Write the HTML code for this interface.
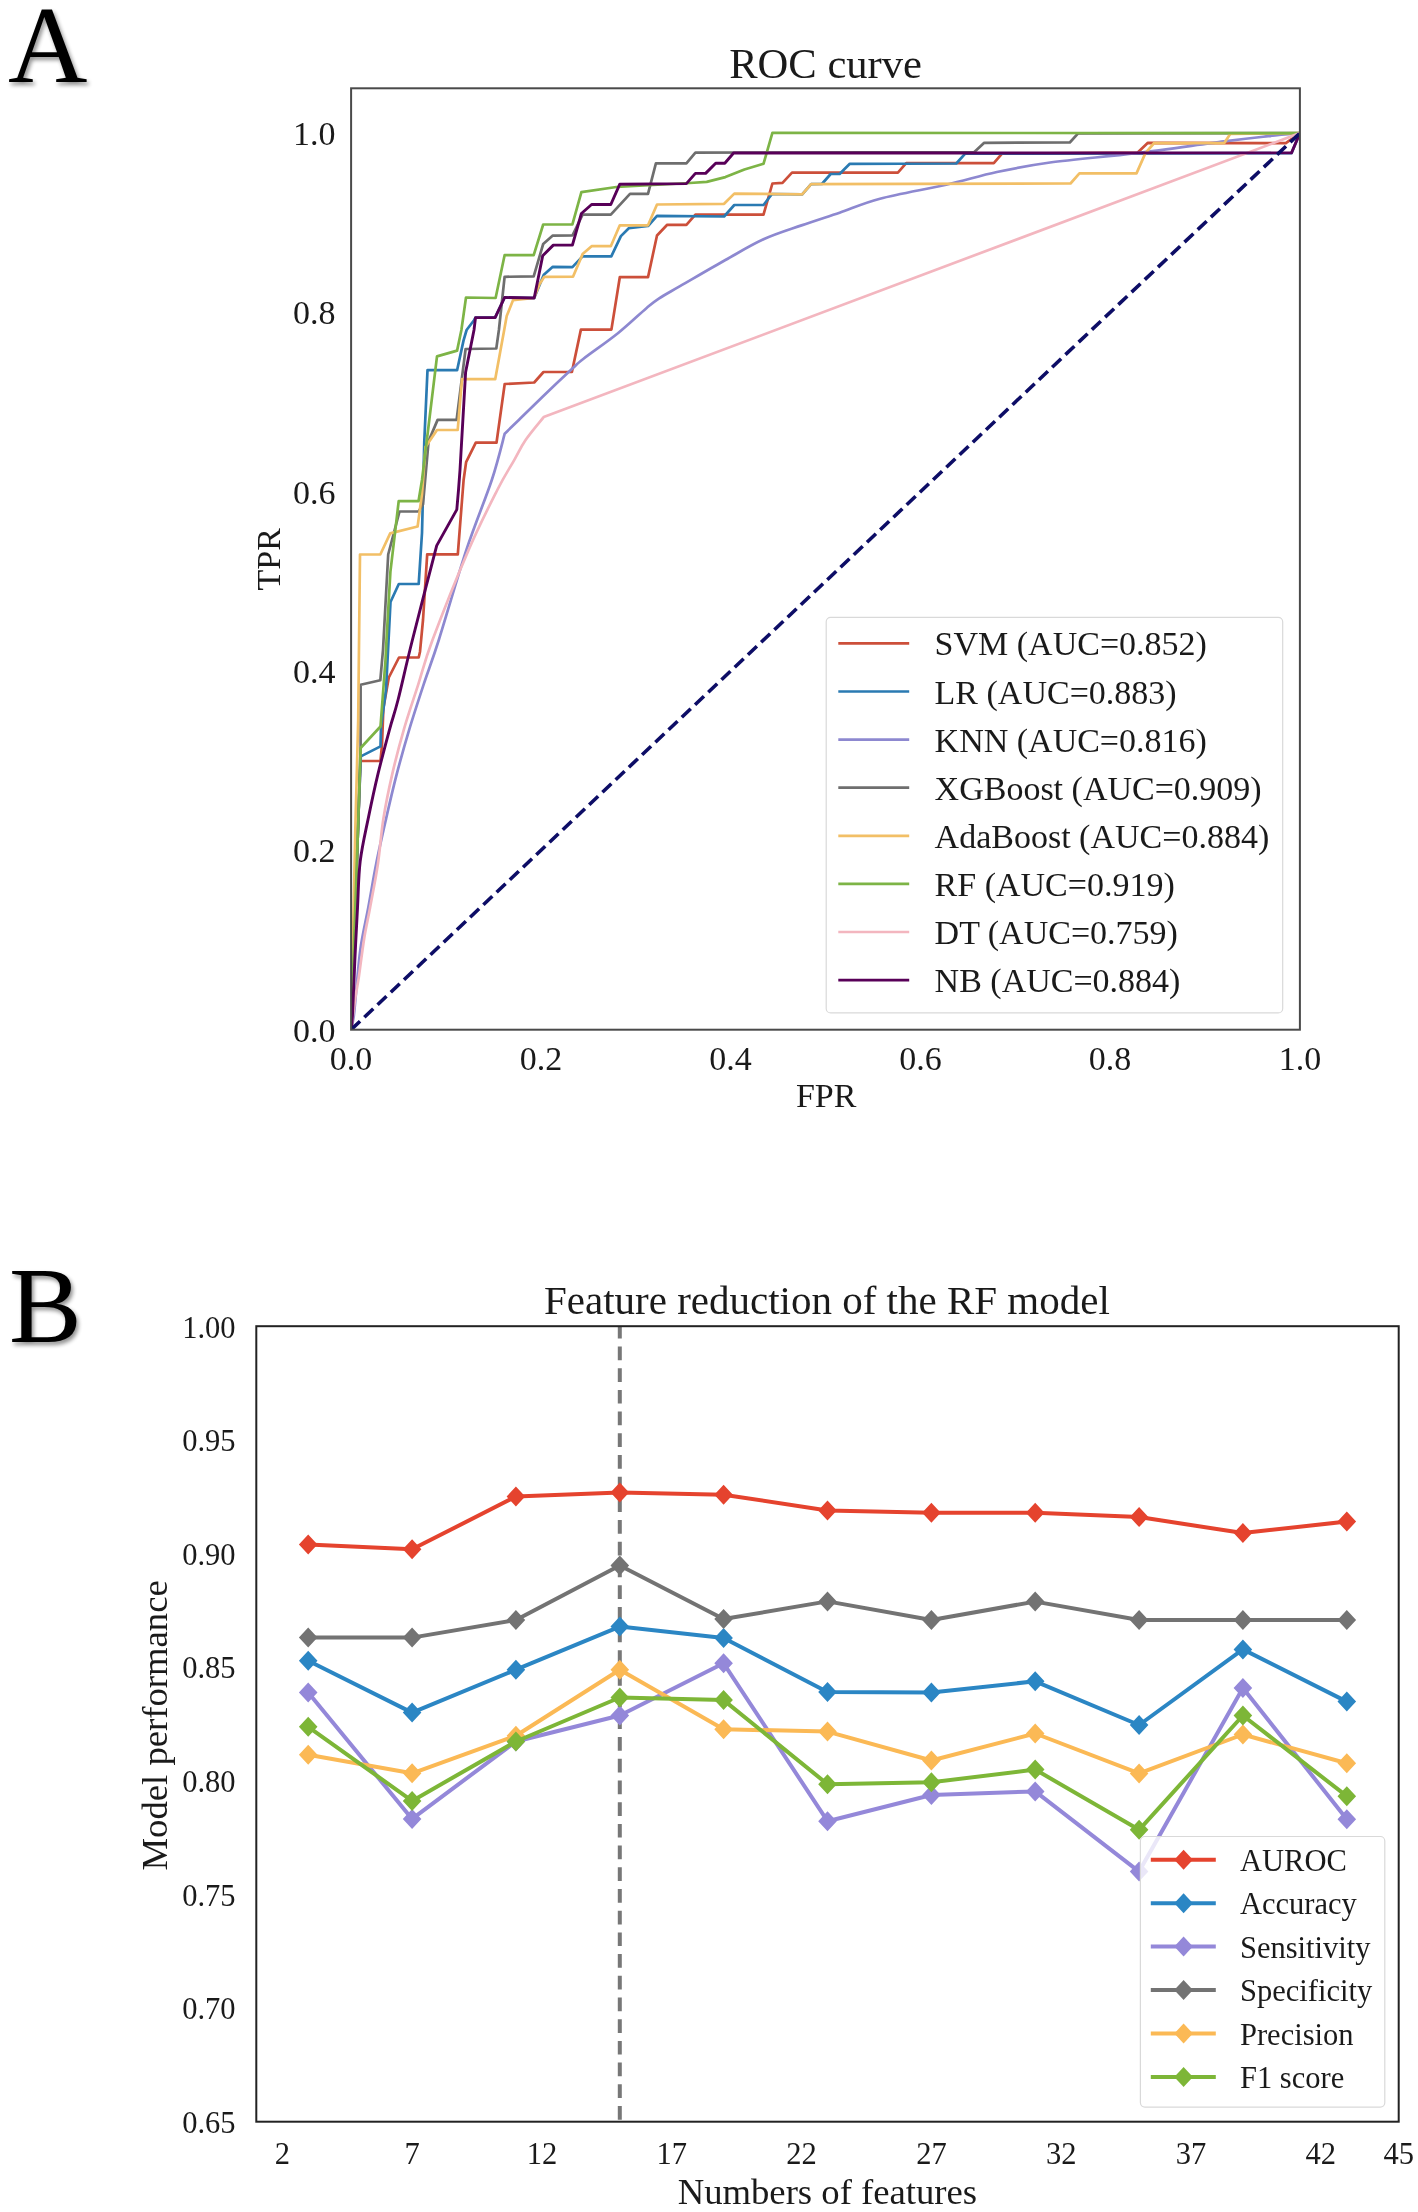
<!DOCTYPE html><html><head><meta charset="utf-8"><style>html,body{margin:0;padding:0;background:#fff;}svg{display:block;will-change:transform}text{font-family:'Liberation Serif', serif;fill:#1a1a1a}</style></head><body>
<svg width="1418" height="2212" viewBox="0 0 1418 2212">
<defs><filter id="sh" x="-20%" y="-20%" width="150%" height="150%"><feGaussianBlur in="SourceAlpha" stdDeviation="2"/><feOffset dx="2" dy="3" result="b"/><feComponentTransfer><feFuncA type="linear" slope="0.45"/></feComponentTransfer><feMerge><feMergeNode/><feMergeNode in="SourceGraphic"/></feMerge></filter></defs>
<rect width="1418" height="2212" fill="#fff"/>
<text x="8" y="82" style="font-size:110px;fill:#000" filter="url(#sh)">A</text>
<text x="9" y="1342" style="font-size:109px;fill:#000" filter="url(#sh)">B</text>
<text x="825.6" y="78" text-anchor="middle" style="font-size:42.6px">ROC curve</text>
<text x="335.5" y="1041.7" text-anchor="end" style="font-size:34px">0.0</text>
<text x="335.5" y="862.4" text-anchor="end" style="font-size:34px">0.2</text>
<text x="335.5" y="683.1" text-anchor="end" style="font-size:34px">0.4</text>
<text x="335.5" y="503.7" text-anchor="end" style="font-size:34px">0.6</text>
<text x="335.5" y="324.4" text-anchor="end" style="font-size:34px">0.8</text>
<text x="335.5" y="145.1" text-anchor="end" style="font-size:34px">1.0</text>
<text x="351.1" y="1070" text-anchor="middle" style="font-size:34px">0.0</text>
<text x="540.9" y="1070" text-anchor="middle" style="font-size:34px">0.2</text>
<text x="730.6" y="1070" text-anchor="middle" style="font-size:34px">0.4</text>
<text x="920.4" y="1070" text-anchor="middle" style="font-size:34px">0.6</text>
<text x="1110.1" y="1070" text-anchor="middle" style="font-size:34px">0.8</text>
<text x="1299.9" y="1070" text-anchor="middle" style="font-size:34px">1.0</text>
<text x="826.2" y="1106.5" text-anchor="middle" style="font-size:34px">FPR</text>
<text transform="translate(279.5,559.3) rotate(-90)" text-anchor="middle" style="font-size:34px">TPR</text>
<clipPath id="clipA"><rect x="351.1" y="88.3" width="948.8000000000001" height="941.4000000000001"/></clipPath>
<g clip-path="url(#clipA)" fill="none" stroke-linejoin="round" stroke-linecap="butt">
<path d="M351.1,1029.7 L358.3,820.0 L360.5,761.0 L380.5,761.0 L382.0,745.0 L383.4,708.0 L388.8,677.5 L399.0,657.5 L418.7,657.5 L420.0,651.7 L423.0,620.0 L427.2,554.3 L457.8,554.3 L463.6,480.0 L466.1,462.2 L475.8,442.7 L496.5,442.7 L504.7,384.0 L534.2,382.5 L543.5,372.0 L571.9,372.0 L580.9,329.6 L611.4,329.6 L619.8,277.2 L648.0,277.2 L657.0,235.5 L667.2,224.8 L686.4,224.8 L695.4,214.6 L763.5,214.6 L772.4,183.5 L782.5,182.8 L792.0,172.7 L897.9,172.7 L906.2,163.2 L993.8,163.2 L1002.0,153.6 L1137.7,152.5 L1147.9,142.8 L1285.8,143.2 L1299.9,133.1" stroke="#cc4f3a" stroke-width="2.7"/>
<path d="M351.1,1029.7 L358.3,820.0 L360.8,756.4 L380.5,746.4 L381.0,727.0 L386.0,690.0 L390.5,602.0 L398.8,584.0 L418.7,584.0 L422.0,533.0 L424.3,441.0 L427.5,370.2 L457.1,370.2 L463.5,340.6 L466.6,330.0 L474.0,320.2 L475.5,317.6 L495.1,317.6 L504.6,297.5 L534.2,298.0 L543.8,274.7 L552.8,266.8 L572.4,267.1 L582.6,256.4 L611.3,256.4 L620.9,236.1 L628.8,228.2 L648.0,226.0 L657.0,215.8 L724.1,216.5 L734.3,205.0 L763.5,205.0 L772.0,194.0 L802.2,194.3 L811.1,184.1 L821.9,184.0 L830.7,174.0 L839.6,174.0 L849.8,163.8 L956.3,163.5 L965.2,153.6 L1291.5,153.2 L1299.9,133.1" stroke="#2a7ab2" stroke-width="2.7"/>
<path d="M351.1,1029.7 C351.6,1027.2 352.8,1023.9 353.9,1015.0 C355.0,1006.1 356.3,988.3 357.5,976.6 C358.7,964.9 359.2,956.5 361.0,945.0 C362.8,933.5 365.6,921.5 368.2,907.9 C370.8,894.3 373.3,878.1 376.3,863.2 C379.3,848.3 382.7,833.5 386.1,818.6 C389.5,803.7 392.9,788.8 396.8,773.9 C400.7,759.0 404.8,744.2 409.3,729.3 C413.8,714.4 418.7,699.5 423.6,684.6 C428.5,669.7 431.7,662.4 438.8,640.0 C445.9,617.6 457.5,576.9 466.3,550.2 C475.1,523.5 485.4,499.4 491.8,480.0 C498.2,460.6 502.6,441.4 504.7,433.7 C507.2,431.2 513.7,424.9 520.0,418.8 C526.3,412.7 534.0,405.1 542.6,396.8 C551.2,388.5 565.1,375.4 571.9,369.1 C578.7,362.8 575.5,365.0 583.2,359.0 C590.9,353.0 607.7,341.5 618.2,333.0 C628.7,324.5 639.6,313.9 646.4,308.2 C653.2,302.5 653.2,302.3 658.8,298.6 C664.4,294.9 668.9,292.6 680.0,286.2 C691.1,279.8 711.5,267.8 725.4,260.0 C739.3,252.2 750.8,245.1 763.5,239.3 C776.2,233.5 788.8,229.8 801.5,225.4 C814.2,221.0 826.5,217.1 839.6,212.7 C852.7,208.2 862.2,203.4 880.0,198.7 C897.8,194.0 926.7,189.1 946.2,184.7 C965.7,180.2 979.6,175.7 996.9,172.0 C1014.2,168.3 1026.7,165.7 1050.0,162.5 C1073.3,159.3 1107.5,156.6 1136.5,153.1 C1165.5,149.6 1202.1,144.2 1224.1,141.4 C1246.0,138.6 1255.6,137.6 1268.2,136.2 C1280.8,134.8 1294.6,133.6 1299.9,133.1" stroke="#8d88d0" stroke-width="2.7"/>
<path d="M351.1,1029.7 L358.3,820.0 L360.6,748.0 L360.6,684.7 L380.3,680.3 L383.0,650.0 L388.2,554.5 L399.5,511.5 L418.6,511.5 L423.0,504.3 L428.6,441.1 L437.6,419.9 L456.6,419.9 L465.6,349.0 L496.3,348.5 L498.9,330.0 L504.6,276.8 L533.7,276.3 L543.2,244.0 L552.8,235.6 L572.4,235.5 L582.6,214.6 L610.8,214.6 L630.0,193.8 L648.0,193.8 L655.9,163.3 L686.4,163.3 L695.4,152.6 L974.1,152.2 L984.2,142.8 L1069.8,142.5 L1078.1,133.4 L1299.9,133.1" stroke="#6e6e6e" stroke-width="2.7"/>
<path d="M351.1,1029.7 L355.3,830.0 L358.2,720.0 L360.0,554.5 L380.3,554.5 L390.2,533.4 L417.6,526.5 L422.0,494.0 L425.5,447.0 L437.0,430.0 L457.7,430.0 L462.0,379.2 L495.2,379.2 L504.2,330.0 L506.7,316.0 L513.1,300.1 L534.0,298.0 L539.5,284.2 L544.3,276.8 L573.0,276.7 L582.6,254.1 L591.6,246.2 L610.8,246.2 L619.8,225.3 L648.0,225.3 L657.0,204.5 L724.1,203.8 L734.3,193.6 L802.2,194.3 L811.1,184.1 L1070.5,183.5 L1079.4,173.4 L1136.5,173.4 L1145.4,153.1 L1154.2,143.0 L1224.1,143.2 L1230.2,134.0 L1299.9,133.1" stroke="#f2bf66" stroke-width="2.7"/>
<path d="M351.1,1029.7 L358.3,820.0 L360.6,748.0 L380.5,726.5 L385.5,660.0 L386.5,640.0 L390.4,571.8 L398.7,501.2 L418.5,501.2 L422.0,480.0 L437.0,356.4 L457.1,350.6 L461.4,330.0 L466.0,297.5 L495.6,298.0 L504.6,255.2 L533.7,255.2 L543.2,224.5 L572.4,224.3 L581.4,192.1 L616.4,187.0 L689.8,183.0 L706.7,181.9 L725.4,177.1 L744.4,169.5 L763.5,163.8 L772.4,132.9 L1299.9,133.1" stroke="#7db446" stroke-width="2.7"/>
<path d="M351.1,1029.7 C351.8,1024.8 353.7,1008.9 355.0,1000.0 C356.3,991.1 357.3,987.0 358.9,976.6 C360.4,966.2 362.4,949.2 364.3,937.7 C366.2,926.2 367.7,920.3 370.0,907.9 C372.3,895.5 375.8,878.1 378.0,863.2 C380.2,848.3 381.0,833.5 383.4,818.6 C385.8,803.7 388.9,788.8 392.3,773.9 C395.7,759.0 399.6,744.2 403.9,729.3 C408.2,714.4 413.4,699.5 418.2,684.6 C423.0,669.7 424.1,662.4 432.5,640.0 C440.9,617.6 457.7,575.2 468.5,550.2 C479.3,525.2 489.7,505.0 497.3,490.0 C504.9,475.0 509.5,468.4 514.2,460.1 C518.9,451.8 520.7,447.2 525.6,440.0 C530.5,432.8 540.7,420.9 543.7,417.1 L1299.9,133.1" stroke="#f3b6bf" stroke-width="2.7"/>
<path d="M351.1,1029.7 C351.3,1027.2 351.9,1026.4 352.5,1015.0 C353.1,1003.6 354.0,979.2 354.8,961.4 C355.6,943.5 356.6,924.6 357.5,907.9 C358.4,891.2 358.4,876.3 360.2,861.4 C362.0,846.5 365.2,833.2 368.2,818.6 C371.2,804.0 374.4,788.8 378.0,773.9 C381.6,759.0 386.3,741.6 389.6,729.3 C392.9,717.0 394.2,714.9 398.0,700.0 C401.8,685.1 405.9,665.7 412.4,640.0 C418.8,614.3 432.6,561.3 436.7,545.6 L456.8,509.6 L458.5,490.0 L460.0,470.0 L465.6,372.3 L474.0,330.0 L475.5,317.6 L495.1,317.6 L504.6,297.5 L534.2,298.0 L542.7,255.7 L553.3,245.1 L572.4,245.1 L581.4,213.5 L591.6,204.5 L610.8,204.5 L619.8,184.2 L686.4,183.6 L695.4,173.4 L705.6,173.4 L715.7,163.3 L724.8,163.2 L733.6,153.0 L1291.5,152.9 L1299.9,133.1" stroke="#580058" stroke-width="2.9"/>
<line x1="351.1" y1="1029.7" x2="1299.9" y2="133.10000000000002" stroke="#0d0d66" stroke-width="3.6" stroke-dasharray="12.3 5.9"/>
</g>
<rect x="351.1" y="88.3" width="948.8" height="941.4" fill="none" stroke="#4a4a4a" stroke-width="2"/>
<rect x="826.2" y="617.3" width="456.5" height="395.6" rx="4.5" fill="#fff" fill-opacity="0.8" stroke="#d9d9d9" stroke-width="1.2"/>
<line x1="838.3" y1="643.4" x2="909.2" y2="643.4" stroke="#cc4f3a" stroke-width="2.7"/>
<text x="934.6" y="655.4" style="font-size:34px">SVM (AUC=0.852)</text>
<line x1="838.3" y1="691.5" x2="909.2" y2="691.5" stroke="#2a7ab2" stroke-width="2.7"/>
<text x="934.6" y="703.5" style="font-size:34px">LR (AUC=0.883)</text>
<line x1="838.3" y1="739.6" x2="909.2" y2="739.6" stroke="#8d88d0" stroke-width="2.7"/>
<text x="934.6" y="751.6" style="font-size:34px">KNN (AUC=0.816)</text>
<line x1="838.3" y1="787.7" x2="909.2" y2="787.7" stroke="#6e6e6e" stroke-width="2.7"/>
<text x="934.6" y="799.7" style="font-size:34px">XGBoost (AUC=0.909)</text>
<line x1="838.3" y1="835.8" x2="909.2" y2="835.8" stroke="#f2bf66" stroke-width="2.7"/>
<text x="934.6" y="847.8" style="font-size:34px">AdaBoost (AUC=0.884)</text>
<line x1="838.3" y1="883.9" x2="909.2" y2="883.9" stroke="#7db446" stroke-width="2.7"/>
<text x="934.6" y="895.9" style="font-size:34px">RF (AUC=0.919)</text>
<line x1="838.3" y1="932.0" x2="909.2" y2="932.0" stroke="#f3b6bf" stroke-width="2.7"/>
<text x="934.6" y="944.0" style="font-size:34px">DT (AUC=0.759)</text>
<line x1="838.3" y1="980.1" x2="909.2" y2="980.1" stroke="#580058" stroke-width="2.9"/>
<text x="934.6" y="992.1" style="font-size:34px">NB (AUC=0.884)</text>
<text x="826.9" y="1313.6" text-anchor="middle" style="font-size:41px">Feature reduction of the RF model</text>
<text x="235.5" y="2133.0" text-anchor="end" style="font-size:30.5px">0.65</text>
<text x="235.5" y="2019.4" text-anchor="end" style="font-size:30.5px">0.70</text>
<text x="235.5" y="1905.7" text-anchor="end" style="font-size:30.5px">0.75</text>
<text x="235.5" y="1792.1" text-anchor="end" style="font-size:30.5px">0.80</text>
<text x="235.5" y="1678.4" text-anchor="end" style="font-size:30.5px">0.85</text>
<text x="235.5" y="1564.8" text-anchor="end" style="font-size:30.5px">0.90</text>
<text x="235.5" y="1451.1" text-anchor="end" style="font-size:30.5px">0.95</text>
<text x="235.5" y="1337.5" text-anchor="end" style="font-size:30.5px">1.00</text>
<text x="282.3" y="2164" text-anchor="middle" style="font-size:30.5px">2</text>
<text x="412.1" y="2164" text-anchor="middle" style="font-size:30.5px">7</text>
<text x="541.9" y="2164" text-anchor="middle" style="font-size:30.5px">12</text>
<text x="671.7" y="2164" text-anchor="middle" style="font-size:30.5px">17</text>
<text x="801.5" y="2164" text-anchor="middle" style="font-size:30.5px">22</text>
<text x="931.4" y="2164" text-anchor="middle" style="font-size:30.5px">27</text>
<text x="1061.2" y="2164" text-anchor="middle" style="font-size:30.5px">32</text>
<text x="1191.0" y="2164" text-anchor="middle" style="font-size:30.5px">37</text>
<text x="1320.8" y="2164" text-anchor="middle" style="font-size:30.5px">42</text>
<text x="1398.7" y="2164" text-anchor="middle" style="font-size:30.5px">45</text>
<text x="827.4" y="2204" text-anchor="middle" style="font-size:36.7px">Numbers of features</text>
<text transform="translate(166.9,1725.4) rotate(-90)" text-anchor="middle" style="font-size:36.7px">Model performance</text>
<line x1="619.8" y1="1326.2" x2="619.8" y2="2121.7" stroke="#777" stroke-width="4" stroke-dasharray="13.7 8" stroke-dashoffset="1.4"/>
<path d="M308.2,1544.6 L412.1,1549.3 L515.9,1496.6 L619.8,1492.4 L723.6,1494.7 L827.5,1510.4 L931.4,1512.7 L1035.2,1512.7 L1139.1,1517.1 L1242.9,1533.0 L1346.8,1521.6" fill="none" stroke="#e5432e" stroke-width="4" stroke-linejoin="round"/>
<path d="M308.2,1534.6 L317.5,1544.6 L308.2,1554.6 L298.9,1544.6 Z M412.1,1539.3 L421.4,1549.3 L412.1,1559.3 L402.8,1549.3 Z M515.9,1486.6 L525.2,1496.6 L515.9,1506.6 L506.6,1496.6 Z M619.8,1482.4 L629.1,1492.4 L619.8,1502.4 L610.5,1492.4 Z M723.6,1484.7 L732.9,1494.7 L723.6,1504.7 L714.3,1494.7 Z M827.5,1500.4 L836.8,1510.4 L827.5,1520.4 L818.2,1510.4 Z M931.4,1502.7 L940.7,1512.7 L931.4,1522.7 L922.1,1512.7 Z M1035.2,1502.7 L1044.5,1512.7 L1035.2,1522.7 L1025.9,1512.7 Z M1139.1,1507.1 L1148.4,1517.1 L1139.1,1527.1 L1129.8,1517.1 Z M1242.9,1523.0 L1252.2,1533.0 L1242.9,1543.0 L1233.6,1533.0 Z M1346.8,1511.6 L1356.1,1521.6 L1346.8,1531.6 L1337.5,1521.6 Z" fill="#e5432e"/>
<path d="M308.2,1660.8 L412.1,1712.6 L515.9,1669.7 L619.8,1626.6 L723.6,1638.0 L827.5,1692.1 L931.4,1692.5 L1035.2,1681.3 L1139.1,1725.0 L1242.9,1649.4 L1346.8,1701.6" fill="none" stroke="#2b86c4" stroke-width="4" stroke-linejoin="round"/>
<path d="M308.2,1650.8 L317.5,1660.8 L308.2,1670.8 L298.9,1660.8 Z M412.1,1702.6 L421.4,1712.6 L412.1,1722.6 L402.8,1712.6 Z M515.9,1659.7 L525.2,1669.7 L515.9,1679.7 L506.6,1669.7 Z M619.8,1616.6 L629.1,1626.6 L619.8,1636.6 L610.5,1626.6 Z M723.6,1628.0 L732.9,1638.0 L723.6,1648.0 L714.3,1638.0 Z M827.5,1682.1 L836.8,1692.1 L827.5,1702.1 L818.2,1692.1 Z M931.4,1682.5 L940.7,1692.5 L931.4,1702.5 L922.1,1692.5 Z M1035.2,1671.3 L1044.5,1681.3 L1035.2,1691.3 L1025.9,1681.3 Z M1139.1,1715.0 L1148.4,1725.0 L1139.1,1735.0 L1129.8,1725.0 Z M1242.9,1639.4 L1252.2,1649.4 L1242.9,1659.4 L1233.6,1649.4 Z M1346.8,1691.6 L1356.1,1701.6 L1346.8,1711.6 L1337.5,1701.6 Z" fill="#2b86c4"/>
<path d="M308.2,1692.6 L412.1,1818.9 L515.9,1741.5 L619.8,1715.5 L723.6,1663.3 L827.5,1821.2 L931.4,1795.0 L1035.2,1791.4 L1139.1,1871.6 L1242.9,1688.0 L1346.8,1819.3" fill="none" stroke="#9488d9" stroke-width="4" stroke-linejoin="round"/>
<path d="M308.2,1682.6 L317.5,1692.6 L308.2,1702.6 L298.9,1692.6 Z M412.1,1808.9 L421.4,1818.9 L412.1,1828.9 L402.8,1818.9 Z M515.9,1731.5 L525.2,1741.5 L515.9,1751.5 L506.6,1741.5 Z M619.8,1705.5 L629.1,1715.5 L619.8,1725.5 L610.5,1715.5 Z M723.6,1653.3 L732.9,1663.3 L723.6,1673.3 L714.3,1663.3 Z M827.5,1811.2 L836.8,1821.2 L827.5,1831.2 L818.2,1821.2 Z M931.4,1785.0 L940.7,1795.0 L931.4,1805.0 L922.1,1795.0 Z M1035.2,1781.4 L1044.5,1791.4 L1035.2,1801.4 L1025.9,1791.4 Z M1139.1,1861.6 L1148.4,1871.6 L1139.1,1881.6 L1129.8,1871.6 Z M1242.9,1678.0 L1252.2,1688.0 L1242.9,1698.0 L1233.6,1688.0 Z M1346.8,1809.3 L1356.1,1819.3 L1346.8,1829.3 L1337.5,1819.3 Z" fill="#9488d9"/>
<path d="M308.2,1637.6 L412.1,1637.6 L515.9,1620.0 L619.8,1565.5 L723.6,1619.0 L827.5,1601.4 L931.4,1620.0 L1035.2,1601.6 L1139.1,1620.0 L1242.9,1620.0 L1346.8,1620.0" fill="none" stroke="#737373" stroke-width="4" stroke-linejoin="round"/>
<path d="M308.2,1627.6 L317.5,1637.6 L308.2,1647.6 L298.9,1637.6 Z M412.1,1627.6 L421.4,1637.6 L412.1,1647.6 L402.8,1637.6 Z M515.9,1610.0 L525.2,1620.0 L515.9,1630.0 L506.6,1620.0 Z M619.8,1555.5 L629.1,1565.5 L619.8,1575.5 L610.5,1565.5 Z M723.6,1609.0 L732.9,1619.0 L723.6,1629.0 L714.3,1619.0 Z M827.5,1591.4 L836.8,1601.4 L827.5,1611.4 L818.2,1601.4 Z M931.4,1610.0 L940.7,1620.0 L931.4,1630.0 L922.1,1620.0 Z M1035.2,1591.6 L1044.5,1601.6 L1035.2,1611.6 L1025.9,1601.6 Z M1139.1,1610.0 L1148.4,1620.0 L1139.1,1630.0 L1129.8,1620.0 Z M1242.9,1610.0 L1252.2,1620.0 L1242.9,1630.0 L1233.6,1620.0 Z M1346.8,1610.0 L1356.1,1620.0 L1346.8,1630.0 L1337.5,1620.0 Z" fill="#737373"/>
<path d="M308.2,1754.7 L412.1,1773.3 L515.9,1735.8 L619.8,1669.7 L723.6,1729.2 L827.5,1731.6 L931.4,1760.5 L1035.2,1733.5 L1139.1,1773.4 L1242.9,1734.5 L1346.8,1763.3" fill="none" stroke="#fbb955" stroke-width="4" stroke-linejoin="round"/>
<path d="M308.2,1744.7 L317.5,1754.7 L308.2,1764.7 L298.9,1754.7 Z M412.1,1763.3 L421.4,1773.3 L412.1,1783.3 L402.8,1773.3 Z M515.9,1725.8 L525.2,1735.8 L515.9,1745.8 L506.6,1735.8 Z M619.8,1659.7 L629.1,1669.7 L619.8,1679.7 L610.5,1669.7 Z M723.6,1719.2 L732.9,1729.2 L723.6,1739.2 L714.3,1729.2 Z M827.5,1721.6 L836.8,1731.6 L827.5,1741.6 L818.2,1731.6 Z M931.4,1750.5 L940.7,1760.5 L931.4,1770.5 L922.1,1760.5 Z M1035.2,1723.5 L1044.5,1733.5 L1035.2,1743.5 L1025.9,1733.5 Z M1139.1,1763.4 L1148.4,1773.4 L1139.1,1783.4 L1129.8,1773.4 Z M1242.9,1724.5 L1252.2,1734.5 L1242.9,1744.5 L1233.6,1734.5 Z M1346.8,1753.3 L1356.1,1763.3 L1346.8,1773.3 L1337.5,1763.3 Z" fill="#fbb955"/>
<path d="M308.2,1726.8 L412.1,1800.9 L515.9,1741.5 L619.8,1697.5 L723.6,1700.1 L827.5,1784.2 L931.4,1782.3 L1035.2,1769.6 L1139.1,1829.8 L1242.9,1715.5 L1346.8,1796.2" fill="none" stroke="#7db637" stroke-width="4" stroke-linejoin="round"/>
<path d="M308.2,1716.8 L317.5,1726.8 L308.2,1736.8 L298.9,1726.8 Z M412.1,1790.9 L421.4,1800.9 L412.1,1810.9 L402.8,1800.9 Z M515.9,1731.5 L525.2,1741.5 L515.9,1751.5 L506.6,1741.5 Z M619.8,1687.5 L629.1,1697.5 L619.8,1707.5 L610.5,1697.5 Z M723.6,1690.1 L732.9,1700.1 L723.6,1710.1 L714.3,1700.1 Z M827.5,1774.2 L836.8,1784.2 L827.5,1794.2 L818.2,1784.2 Z M931.4,1772.3 L940.7,1782.3 L931.4,1792.3 L922.1,1782.3 Z M1035.2,1759.6 L1044.5,1769.6 L1035.2,1779.6 L1025.9,1769.6 Z M1139.1,1819.8 L1148.4,1829.8 L1139.1,1839.8 L1129.8,1829.8 Z M1242.9,1705.5 L1252.2,1715.5 L1242.9,1725.5 L1233.6,1715.5 Z M1346.8,1786.2 L1356.1,1796.2 L1346.8,1806.2 L1337.5,1796.2 Z" fill="#7db637"/>
<rect x="256.3" y="1326.2" width="1142.4" height="795.5" fill="none" stroke="#222" stroke-width="2"/>
<rect x="1140.4" y="1836.5" width="244.4" height="270.6" rx="4.5" fill="#fff" fill-opacity="0.8" stroke="#d9d9d9" stroke-width="1.2"/>
<line x1="1150.8" y1="1859.7" x2="1215.8" y2="1859.7" stroke="#e5432e" stroke-width="4"/>
<path d="M1183.6,1849.7 L1192.9,1859.7 L1183.6,1869.7 L1174.3,1859.7 Z" fill="#e5432e"/>
<text x="1240" y="1870.7" style="font-size:30.5px">AUROC</text>
<line x1="1150.8" y1="1903.2" x2="1215.8" y2="1903.2" stroke="#2b86c4" stroke-width="4"/>
<path d="M1183.6,1893.2 L1192.9,1903.2 L1183.6,1913.2 L1174.3,1903.2 Z" fill="#2b86c4"/>
<text x="1240" y="1914.2" style="font-size:30.5px">Accuracy</text>
<line x1="1150.8" y1="1946.6" x2="1215.8" y2="1946.6" stroke="#9488d9" stroke-width="4"/>
<path d="M1183.6,1936.6 L1192.9,1946.6 L1183.6,1956.6 L1174.3,1946.6 Z" fill="#9488d9"/>
<text x="1240" y="1957.6" style="font-size:30.5px">Sensitivity</text>
<line x1="1150.8" y1="1990.1" x2="1215.8" y2="1990.1" stroke="#737373" stroke-width="4"/>
<path d="M1183.6,1980.1 L1192.9,1990.1 L1183.6,2000.1 L1174.3,1990.1 Z" fill="#737373"/>
<text x="1240" y="2001.1" style="font-size:30.5px">Specificity</text>
<line x1="1150.8" y1="2033.5" x2="1215.8" y2="2033.5" stroke="#fbb955" stroke-width="4"/>
<path d="M1183.6,2023.5 L1192.9,2033.5 L1183.6,2043.5 L1174.3,2033.5 Z" fill="#fbb955"/>
<text x="1240" y="2044.5" style="font-size:30.5px">Precision</text>
<line x1="1150.8" y1="2076.9" x2="1215.8" y2="2076.9" stroke="#7db637" stroke-width="4"/>
<path d="M1183.6,2066.9 L1192.9,2076.9 L1183.6,2086.9 L1174.3,2076.9 Z" fill="#7db637"/>
<text x="1240" y="2087.9" style="font-size:30.5px">F1 score</text>
</svg></body></html>
